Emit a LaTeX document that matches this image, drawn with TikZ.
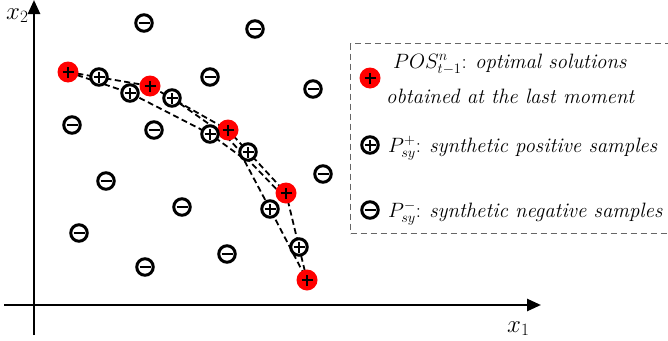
\documentclass[tikz,border=0pt]{standalone}
\usepackage{fontspec}
\usetikzlibrary{arrows.meta}
\pgfdeclarelayer{bg}
\pgfsetlayers{bg,main}
\begin{document}
\begin{tikzpicture}[x=1pt,y=-1pt,
  txt/.style={inner sep=0pt,anchor=base west,font=\fontsize{20.8}{24}\selectfont},
  axlabel/.style={inner sep=0pt,anchor=base west,font=\fontsize{23}{26}\selectfont},
  axisline/.style={line width=2.6pt,-{Triangle[length=14pt,width=12pt]}},
  dl/.style={line width=1.8pt,dash pattern=on 6pt off 3.5pt},
  optnode/.style={circle,fill=red,minimum size=21pt,inner sep=0pt,
    path picture={\draw[line width=2.4pt]
      ([xshift=-5.5pt]path picture bounding box.center)--([xshift=5.5pt]path picture bounding box.center)
      ([yshift=-5.5pt]path picture bounding box.center)--([yshift=5.5pt]path picture bounding box.center);}},
  posnode/.style={circle,draw,fill=white,line width=3pt,minimum size=16.5pt,inner sep=0pt,
    path picture={\draw[line width=2.3pt]
      ([xshift=-5.5pt]path picture bounding box.center)--([xshift=5.5pt]path picture bounding box.center)
      ([yshift=-5.5pt]path picture bounding box.center)--([yshift=5.5pt]path picture bounding box.center);}},
  negnode/.style={circle,draw,fill=white,line width=3pt,minimum size=16.5pt,inner sep=0pt,
    path picture={\draw[line width=2.8pt]
      ([xshift=-5.5pt]path picture bounding box.center)--([xshift=5.5pt]path picture bounding box.center);}}
]
\useasboundingbox (0,0) rectangle (668,340);
% axes
\coordinate (ya) at (34,335);
\coordinate (yb) at (34,0);
\coordinate (xa) at (4,305);
\coordinate (xb) at (541,305);
\draw[axisline] (ya) -- (yb);
\draw[axisline] (xa) -- (xb);
\node[axlabel] (lx2) at (6,19) {$x_2$};
\node[axlabel] (lx1) at (507,332) {$x_1$};
% optimal solutions
\node[optnode] (R1) at (68,72) {};
\node[optnode] (R2) at (150,86) {};
\node[optnode] (R3) at (228,130) {};
\node[optnode] (R4) at (286,193) {};
\node[optnode] (R5) at (307,280) {};
% synthetic positives
\node[posnode] (P1) at (99,77) {};
\node[posnode] (P2) at (130,93) {};
\node[posnode] (P3) at (172,98) {};
\node[posnode] (P4) at (210,134) {};
\node[posnode] (P5) at (248,152) {};
\node[posnode] (P6) at (270,209) {};
\node[posnode] (P7) at (299,247) {};
\coordinate (bend) at (243,158);
% synthetic negatives
\node[negnode] (N1) at (144,23) {};
\node[negnode] (N2) at (255,29) {};
\node[negnode] (N3) at (210,77) {};
\node[negnode] (N4) at (313,89) {};
\node[negnode] (N5) at (72,125) {};
\node[negnode] (N6) at (154,130) {};
\node[negnode] (N7) at (323,174) {};
\node[negnode] (N8) at (106,181) {};
\node[negnode] (N9) at (182,207) {};
\node[negnode] (N10) at (79,233) {};
\node[negnode] (N11) at (227,254) {};
\node[negnode] (N12) at (145,267) {};
\begin{pgfonlayer}{bg}
\draw[dl] (R1.center) -- (R2.center) -- (R3.center) -- (R4.center) -- (R5.center);
\draw[dl] (R1.center) -- (P2.center) -- (P4.center) -- (bend) -- (P6.center) -- (R5.center);
\draw[dl] (P3.center) -- ([shift={(-2,6)}]R3.center) -- ([shift={(-3.5,4)}]P5.center) -- ([shift={(-3,3)}]R4.center);
\end{pgfonlayer}
% legend
\node[draw=black!60,dash pattern=on 6pt off 4pt,line width=1.1pt,minimum width=340pt,minimum height=190pt,anchor=north west,inner sep=0pt] (box) at (350,43) {};
\node[optnode] (LR) at (370,78) {};
\node[posnode] (LP) at (370,145) {};
\node[negnode] (LN) at (370,210) {};
\node[txt] (t1) at (393,68) {$POS^n_{t-1}$: \textit{optimal solutions}};
\node[txt] (t2) at (386,103) {\textit{obtained at the last moment}};
\node[txt] (t3) at (388,152) {$P^+_{sy}$: \textit{synthetic positive samples}};
\node[txt] (t4) at (388,217) {$P^-_{sy}$: \textit{synthetic negative samples}};
\end{tikzpicture}
\end{document}
